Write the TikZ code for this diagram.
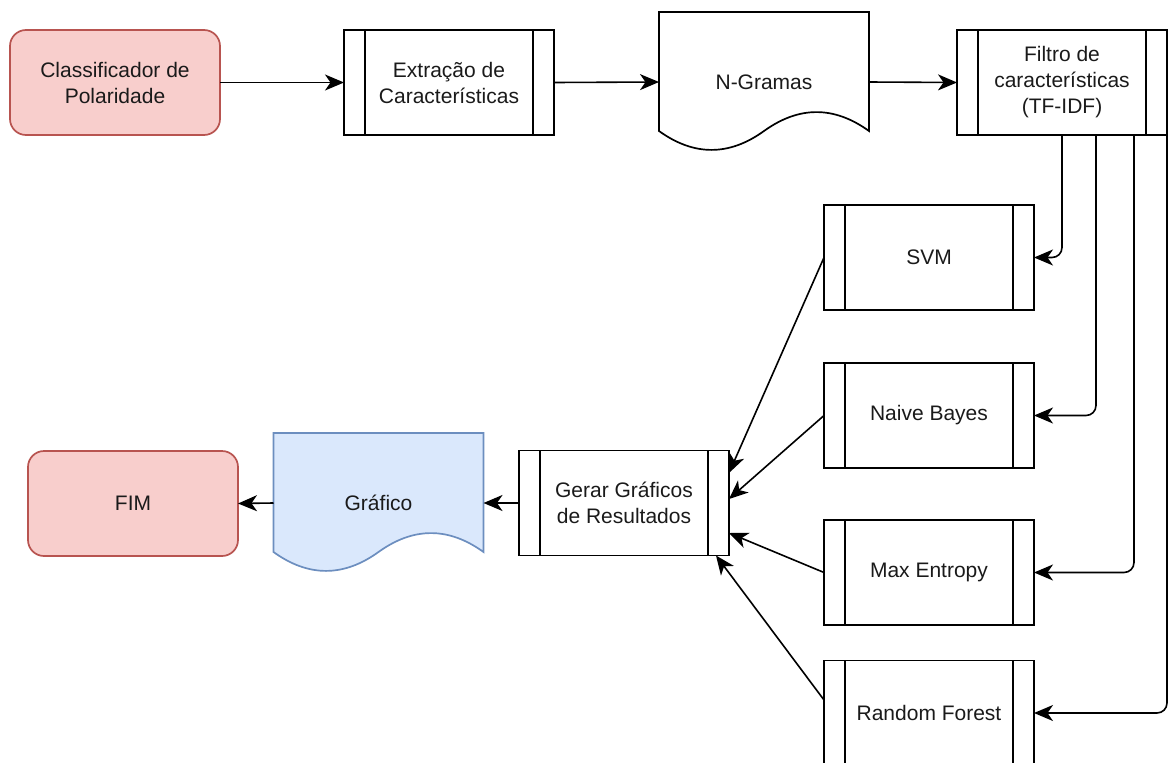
\documentclass[tikz,border=0pt]{standalone}
\usepackage{fontspec}
\setmainfont{Liberation Sans}
\usetikzlibrary{calc,arrows.meta}
\definecolor{redfill}{HTML}{F8CECC}
\definecolor{redline}{HTML}{B85450}
\definecolor{bluefill}{HTML}{DAE8FC}
\definecolor{blueline}{HTML}{6C8EBF}
\definecolor{ink}{HTML}{1A1A1A}

% wavy-bottom document outline around a named node
\newcommand\docpath[1]{%
  (#1.north west) -- (#1.north east) -- ($(#1.south west)+(210,-21)$)
  .. controls ($(#1.south west)+(175,-46.2)$) and ($(#1.south west)+(140,-46.2)$) .. ($(#1.south west)+(105,-21)$)
  .. controls ($(#1.south west)+(70,4.2)$) and ($(#1.south west)+(35,4.2)$) .. ($(#1.south west)+(0,-21)$) -- cycle}

\tikzset{
  base/.style={minimum width=210pt, minimum height=105pt, inner sep=0pt, outer sep=0pt,
    align=center, font=\fontsize{21}{26}\selectfont, text=ink, line width=1.7pt},
  terminal/.style={base, draw=redline, fill=redfill, rounded corners=16pt},
  procbox/.style={base, draw=black,
    path picture={
      \draw[line width=1.7pt] ([xshift=21pt]path picture bounding box.north west) -- ([xshift=21pt]path picture bounding box.south west);
      \draw[line width=1.7pt] ([xshift=-21pt]path picture bounding box.north east) -- ([xshift=-21pt]path picture bounding box.south east);
    }},
  docbox/.style={base, minimum height=140pt},
  tipclassic/.tip={Stealth[length=19pt,width=16pt,inset=5.5pt]},
  conn/.style={line width=1.6pt, -{tipclassic}, rounded corners=10pt},
}

\begin{document}
\begin{tikzpicture}[x=1pt, y=-1pt]
\useasboundingbox (0,0) rectangle (1168,763);

% top row
\node[terminal] (cls) at (115,82.5) {Classificador de\\Polaridade};
\node[procbox] (ext) at (449,82.5) {Extração de\\Características};
\node[docbox] (ngr) at (764,82) {};
\draw[line width=1.7pt, fill=white] \docpath{ngr};
\node[base] at (ngr.center) {N-Gramas};
\node[procbox] (filt) at (1062,82.5) {Filtro de\\características\\(TF-IDF)};

% classifiers
\node[procbox] (svm) at (929,257.5) {SVM};
\node[procbox] (nb) at (929,415.5) {Naive Bayes};
\node[procbox] (me) at (929,572.5) {Max Entropy};
\node[procbox] (rf) at (929,713) {Random Forest};

% results row
\node[procbox] (ger) at (624,503) {Gerar Gráficos\\de Resultados};
\node[docbox] (gra) at (378.5,503) {};
\draw[line width=1.7pt, draw=blueline, fill=bluefill] \docpath{gra};
\node[base] at (gra.center) {Gráfico};
\node[terminal] (fim) at (133,503.5) {FIM};

% connectors
\draw[conn] (cls.east) -- (ext.west);
\draw[conn] (ext.east) -- (ngr.west);
\draw[conn] (ngr.east) -- (filt.west);

\draw[conn] (filt.south) |- (svm.east);
\draw[conn] ($(filt.south)+(34,0)$) |- (nb.east);
\draw[conn] ($(filt.south)+(72,0)$) |- (me.east);
\draw[conn] (filt.south east) |- (rf.east);

\draw[conn] (svm.west) -- ($(ger.east)+(0,-30)$);
\draw[conn] (nb.west) -- ($(ger.east)+(0,-4)$);
\draw[conn] (me.west) -- ($(ger.east)+(0,30)$);
\draw[conn] ($(rf.west)+(0,-13)$) -- ($(ger.south east)+(-13,0)$);

\draw[conn] (ger.west) -- (gra.east);
\draw[conn] (gra.west) -- (fim.east);
\end{tikzpicture}
\end{document}
